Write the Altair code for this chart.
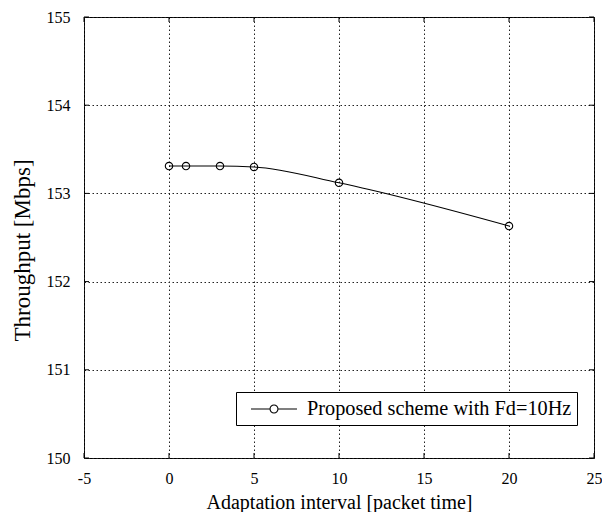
import altair as alt
import pandas as pd

interval = [0, 1, 3, 5, 10, 20]
throughput = [153.31, 153.31, 153.31, 153.30, 153.12, 152.63]
series_name = "Proposed scheme with Fd=10Hz"
x_ticks = [-5, 0, 5, 10, 15, 20, 25]
y_ticks = [150, 151, 152, 153, 154, 155]

W, H = 510, 441
FONT = "Liberation Serif"
TICK = 5

df = pd.DataFrame({"interval": interval, "throughput": throughput,
                   "series": [series_name] * len(interval)})
xt = pd.DataFrame({"interval": x_ticks})
yt = pd.DataFrame({"throughput": y_ticks})

xscale = alt.Scale(domain=[-5, 25], nice=False, zero=False)
yscale = alt.Scale(domain=[150, 155], nice=False, zero=False)

common = dict(grid=True, ticks=False, domain=False, labelFlush=False, labelOverlap=False,
              labelFont=FONT, titleFont=FONT, labelColor="black", titleColor="black",
              titleFontWeight="normal", labelFontSize=16,
              gridColor="#222", gridDash=[1.5, 2.5], gridWidth=1, gridOpacity=1)
x_axis = alt.Axis(values=x_ticks, title="Adaptation interval [packet time]",
                  labelExpr="datum.value < 0 ? '-' + abs(datum.value) : '' + datum.value",
                  labelPadding=12, titlePadding=6, titleFontSize=20, **common)
y_axis = alt.Axis(values=y_ticks, title="Throughput [Mbps]",
                  labelPadding=14, titlePadding=12, titleFontSize=23, titleY=233, **common)

X = alt.X("interval:Q", scale=xscale, axis=x_axis)
Y = alt.Y("throughput:Q", scale=yscale, axis=y_axis)

legend_path = ("M-2.09,0L-0.36,0M0.36,0L2.09,0"
               "M-0.36,0A0.36,0.36,0,1,0,0.36,0A0.36,0.36,0,1,0,-0.36,0")

line = alt.Chart(df).mark_line(interpolate="monotone", strokeWidth=1.1).encode(
    x=X, y=Y,
    stroke=alt.Stroke("series:N", scale=alt.Scale(domain=[series_name], range=["black"]),
                      legend=alt.Legend(orient="none", legendX=152, legendY=375, title=None,
                                        symbolType=legend_path, symbolSize=484,
                                        symbolOffset=21,
                                        symbolStrokeWidth=1.1, symbolFillColor="white",
                                        symbolStrokeColor="black",
                                        labelFontSize=20.3, labelFont=FONT, labelColor="black",
                                        labelOffset=21, labelLimit=0, padding=5,
                                        strokeColor="black", fillColor="white")),
)

points = alt.Chart(df).mark_point(shape="circle", size=55, filled=False, stroke="black",
                                  strokeWidth=1.1, opacity=1).encode(x=X, y=Y)

xt_bottom = alt.Chart(xt).mark_rule(color="black", strokeWidth=1).encode(
    x=X, y=alt.value(H), y2=alt.value(H - TICK))
xt_top = alt.Chart(xt).mark_rule(color="black", strokeWidth=1).encode(
    x=X, y=alt.value(0), y2=alt.value(TICK))
yt_left = alt.Chart(yt).mark_rule(color="black", strokeWidth=1).encode(
    y=Y, x=alt.value(0), x2=alt.value(TICK))
yt_right = alt.Chart(yt).mark_rule(color="black", strokeWidth=1).encode(
    y=Y, x=alt.value(W), x2=alt.value(W - TICK))

chart = alt.layer(line, points, xt_bottom, xt_top, yt_left, yt_right).properties(
    width=W, height=H,
    autosize="none",
    background="white",
    padding={"left": 76, "top": 9, "right": 8, "bottom": 54},
).configure(
    font=FONT
).configure_view(
    stroke="black", strokeWidth=1
).configure_axis(
    labelFont=FONT, titleFont=FONT
)

chart.save("out.html", embed_options={"renderer": "svg", "actions": False})
